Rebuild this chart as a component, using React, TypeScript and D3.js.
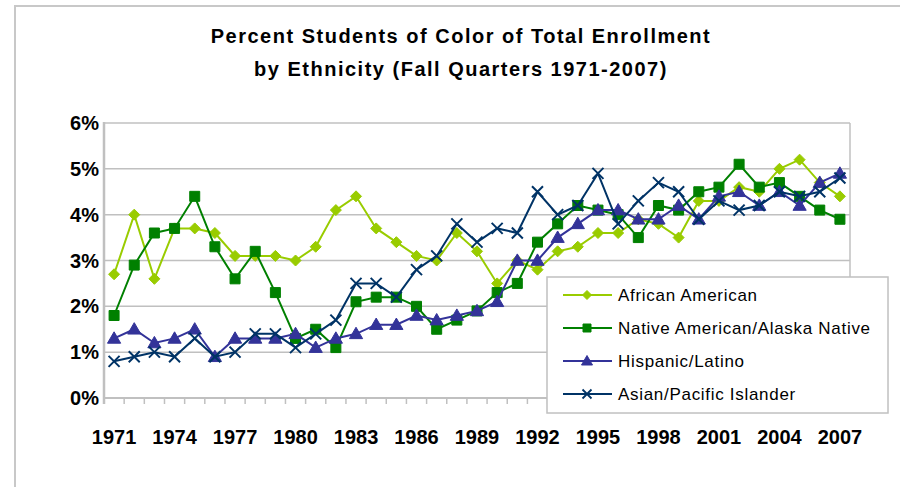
import React from 'react';
import * as d3 from 'd3';

const years = d3.range(1971, 2008).map(String);
const yTicks = [0, 1, 2, 3, 4, 5, 6];
const xLabelYears = ['1971', '1974', '1977', '1980', '1983', '1986', '1989', '1992', '1995', '1998', '2001', '2004', '2007'];

const africanAmerican = [2.7, 4.0, 2.6, 3.7, 3.7, 3.6, 3.1, 3.1, 3.1, 3.0, 3.3, 4.1, 4.4, 3.7, 3.4, 3.1, 3.0, 3.6, 3.2, 2.5, 3.0, 2.8, 3.2, 3.3, 3.6, 3.6, 3.9, 3.8, 3.5, 4.3, 4.3, 4.6, 4.5, 5.0, 5.2, 4.7, 4.4];
const nativeAmerican = [1.8, 2.9, 3.6, 3.7, 4.4, 3.3, 2.6, 3.2, 2.3, 1.3, 1.5, 1.1, 2.1, 2.2, 2.2, 2.0, 1.5, 1.7, 1.9, 2.3, 2.5, 3.4, 3.8, 4.2, 4.1, 4.0, 3.5, 4.2, 4.1, 4.5, 4.6, 5.1, 4.6, 4.7, 4.4, 4.1, 3.9];
const hispanic = [1.3, 1.5, 1.2, 1.3, 1.5, 0.9, 1.3, 1.3, 1.3, 1.4, 1.1, 1.3, 1.4, 1.6, 1.6, 1.8, 1.7, 1.8, 1.9, 2.1, 3.0, 3.0, 3.5, 3.8, 4.1, 4.1, 3.9, 3.9, 4.2, 3.9, 4.4, 4.5, 4.2, 4.5, 4.2, 4.7, 4.9];
const asian = [0.8, 0.9, 1.0, 0.9, 1.3, 0.9, 1.0, 1.4, 1.4, 1.1, 1.4, 1.7, 2.5, 2.5, 2.2, 2.8, 3.1, 3.8, 3.4, 3.7, 3.6, 4.5, 4.0, 4.2, 4.9, 3.8, 4.3, 4.7, 4.5, 3.9, 4.3, 4.1, 4.2, 4.5, 4.4, 4.5, 4.8];

const series = [
  { name: 'African American', values: africanAmerican, color: '#99CC00', marker: 'diamond' },
  { name: 'Native American/Alaska Native', values: nativeAmerican, color: '#008000', marker: 'square' },
  { name: 'Hispanic/Latino', values: hispanic, color: '#333399', marker: 'triangle' },
  { name: 'Asian/Pacific Islander', values: asian, color: '#003366', marker: 'x' },
];

const font = '"Liberation Sans", Arial, sans-serif';

function markerPath(kind: string, s: number) {
  const p = d3.path();
  if (kind === 'diamond') {
    p.moveTo(0, -s); p.lineTo(s, 0); p.lineTo(0, s); p.lineTo(-s, 0); p.closePath();
  } else if (kind === 'square') {
    p.rect(-s, -s, 2 * s, 2 * s);
  } else if (kind === 'triangle') {
    p.moveTo(0, -s * 1.1); p.lineTo(s * 1.1, s * 0.8); p.lineTo(-s * 1.1, s * 0.8); p.closePath();
  } else {
    p.moveTo(-s, -s); p.lineTo(s, s); p.moveTo(s, -s); p.lineTo(-s, s);
  }
  return p.toString();
}

export default function App() {
  const width = 900;
  const height = 487;
  const left = 104, right = 850, top = 123, bottom = 398;

  const x = d3.scaleBand().domain(years).range([left, right]);
  const y = d3.scaleLinear().domain([0, 6]).range([bottom, top]);
  const cx = (yr: string) => (x(yr) as number) + x.bandwidth() / 2;

  const line = d3.line<number>()
    .x((_, i) => cx(years[i]))
    .y(d => y(d));

  const markerSize: Record<string, number> = { diamond: 5.5, square: 5, triangle: 6, x: 5.5 };
  const legendSize: Record<string, number> = { diamond: 4.5, square: 4, triangle: 5, x: 4.5 };

  const boundaries = d3.range(years.length + 1).map(i => left + i * x.bandwidth());

  return (
    <svg width={width} height={height} style={{ position: 'absolute', left: 0, top: 0, background: '#fff' }}>
      <rect x={15} y={6} width={width} height={height} fill="#fff" stroke="#c8c8c8" strokeWidth={2} />

      <text x={461} y={43} textAnchor="middle" fontFamily={font} fontWeight="bold" fontSize={20} letterSpacing={1.5} fill="#000">
        Percent Students of Color of Total Enrollment
      </text>
      <text x={461} y={76} textAnchor="middle" fontFamily={font} fontWeight="bold" fontSize={20} letterSpacing={1.5} fill="#000">
        by Ethnicity (Fall Quarters 1971-2007)
      </text>

      {yTicks.map(t => (
        <g key={t}>
          <line x1={left} x2={right} y1={y(t)} y2={y(t)} stroke="#c0c0c0" strokeWidth={1.5} />
          <text x={left - 5} y={y(t)} dy="0.35em" textAnchor="end" fontFamily={font} fontWeight="bold" fontSize={20} fill="#000">
            {t}%
          </text>
        </g>
      ))}
      <line x1={right} x2={right} y1={top} y2={bottom} stroke="#c0c0c0" strokeWidth={1.5} />
      <line x1={left} x2={left} y1={top - 1} y2={bottom + 6} stroke="#c0c0c0" strokeWidth={2.5} />
      <line x1={left} x2={right} y1={bottom} y2={bottom} stroke="#c0c0c0" strokeWidth={2} />
      {boundaries.map((bx, i) => (
        <line key={i} x1={bx} x2={bx} y1={bottom} y2={bottom + 6} stroke="#c0c0c0" strokeWidth={1.5} />
      ))}
      {xLabelYears.map(yr => (
        <text key={yr} x={cx(yr)} y={444} textAnchor="middle" fontFamily={font} fontWeight="bold" fontSize={20} fill="#000">
          {yr}
        </text>
      ))}

      {series.map(s => (
        <g key={s.name}>
          <path d={line(s.values) as string} fill="none" stroke={s.color} strokeWidth={2} />
          {s.values.map((v, i) => (
            <path
              key={i}
              d={markerPath(s.marker, markerSize[s.marker])}
              transform={`translate(${cx(years[i])},${y(v)})`}
              fill={s.marker === 'x' ? 'none' : s.color}
              stroke={s.color}
              strokeWidth={s.marker === 'x' ? 2 : 1}
            />
          ))}
        </g>
      ))}

      <g>
        <rect x={547} y={277} width={341} height={136} fill="#fff" stroke="#c0c0c0" strokeWidth={1.5} />
        {series.map((s, i) => {
          const ly = 295 + i * 33;
          return (
            <g key={s.name}>
              <line x1={563} x2={612} y1={ly} y2={ly} stroke={s.color} strokeWidth={2} />
              <path
                d={markerPath(s.marker, legendSize[s.marker])}
                transform={`translate(587,${ly})`}
                fill={s.marker === 'x' ? 'none' : s.color}
                stroke={s.color}
                strokeWidth={s.marker === 'x' ? 1.8 : 1}
              />
              <text x={618} y={ly} dy="0.35em" fontFamily={font} fontSize={17} letterSpacing={0.7} fill="#000">
                {s.name}
              </text>
            </g>
          );
        })}
      </g>
    </svg>
  );
}
